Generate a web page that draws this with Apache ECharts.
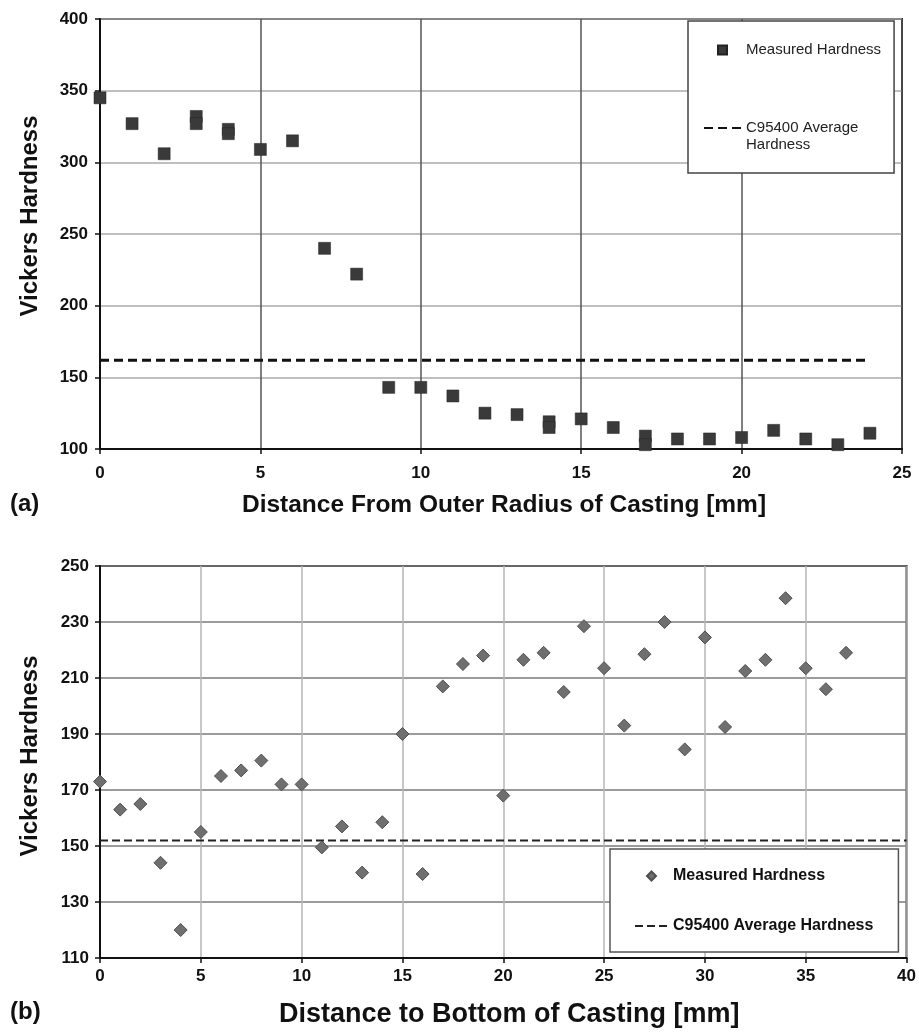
<!DOCTYPE html>
<html>
<head>
<meta charset="utf-8">
<script src="https://cdn.jsdelivr.net/npm/echarts@6/dist/echarts.min.js"></script>
<style>
html,body{margin:0;padding:0;background:#fff;}
#chart{width:919px;height:1036px;}
</style>
</head>
<body>
<div id="chart"></div>
<script>
// ---- Data: panel (a) ----
const topX = [0, 1, 2, 3, 3, 4, 4, 5, 6, 7, 8, 9, 10, 11, 12, 13, 14, 14, 15, 16, 17, 17, 18, 19, 20, 21, 22, 23, 24];
const topY = [345, 327, 306, 332, 327, 323, 320, 309, 315, 240, 222, 143, 143, 137, 125, 124, 119, 115, 121, 115, 109, 103, 107, 107, 108, 113, 107, 103, 111];
const topAvgX = [0, 24];
const topAvgY = [162, 162];
const topXTicks = { min: 0, max: 25, interval: 5 };
const topYTicks = { min: 100, max: 400, interval: 50 };

// ---- Data: panel (b) ----
const bottomX = [0, 1, 2, 3, 4, 5, 6, 7, 8, 9, 10, 11, 12, 13, 14, 15, 16, 17, 18, 19, 20, 21, 22, 23, 24, 25, 26, 27, 28, 29, 30, 31, 32, 33, 34, 35, 36, 37];
const bottomY = [173, 163, 165, 144, 120, 155, 175, 177, 180.5, 172, 172, 149.5, 157, 140.5, 158.5, 190, 140, 207, 215, 218, 168, 216.5, 219, 205, 228.5, 213.5, 193, 218.5, 230, 184.5, 224.5, 192.5, 212.5, 216.5, 238.5, 213.5, 206, 219];
const bottomAvgX = [0, 40];
const bottomAvgY = [152, 152];
const bottomXTicks = { min: 0, max: 40, interval: 5 };
const bottomYTicks = { min: 110, max: 250, interval: 20 };

// ---- Text ----
const yTitle = 'Vickers Hardness';
const topXTitle = 'Distance From Outer Radius of Casting [mm]';
const bottomXTitle = 'Distance to Bottom of Casting [mm]';
const seriesLabel = {
  'a_meas': 'Measured Hardness',
  'a_avg': '\nC95400 Average\nHardness',
  'b_meas': 'Measured Hardness',
  'b_avg': 'C95400 Average Hardness'
};

const FF = "'Liberation Sans', Arial, sans-serif";
const zip = (xs, ys) => xs.map((x, i) => [x, ys[i]]);
const hiddenDot = { color: 'rgba(0,0,0,0)', borderColor: 'rgba(0,0,0,0)', borderWidth: 0, opacity: 0 };
const squareIcon = 'path://M0,0L10,0L10,10L0,10Z';
const diamondIcon = 'path://M5,0L10,5L5,10L0,5Z';

const chart = echarts.init(document.getElementById('chart'), null, { renderer: 'canvas' });

const option = {
  animation: false,
  backgroundColor: '#ffffff',
  textStyle: { fontFamily: FF },
  grid: [
    { left: 100, right: 17, top: 19, bottom: 587, show: true, borderColor: '#222', borderWidth: 2, backgroundColor: 'transparent' },
    { left: 100, right: 12, top: 566, bottom: 78, show: true, borderColor: '#333', borderWidth: 2, backgroundColor: 'transparent' }
  ],
  xAxis: [
    {
      gridIndex: 0, type: 'value', min: topXTicks.min, max: topXTicks.max, interval: topXTicks.interval,
      axisLine: { show: true, onZero: false, lineStyle: { color: '#111', width: 2 } },
      axisTick: { show: true, length: 5, lineStyle: { color: '#111', width: 1.5 } },
      axisLabel: { margin: 16, fontSize: 17, fontWeight: 'bold', color: '#111', fontFamily: FF },
      splitLine: { show: true, lineStyle: { color: '#555', width: 1.5 } },
      name: topXTitle, nameLocation: 'middle', nameGap: 44,
      nameTextStyle: { fontSize: 24.5, fontWeight: 'bold', color: '#111', lineHeight: 24, fontFamily: FF, padding: [0, 0, 0, 6] }
    },
    {
      gridIndex: 1, type: 'value', min: bottomXTicks.min, max: bottomXTicks.max, interval: bottomXTicks.interval,
      axisLine: { show: true, onZero: false, lineStyle: { color: '#111', width: 2 } },
      axisTick: { show: true, length: 5, lineStyle: { color: '#111', width: 1.5 } },
      axisLabel: { margin: 10, fontSize: 17, fontWeight: 'bold', color: '#111', fontFamily: FF },
      splitLine: { show: true, lineStyle: { color: '#b5b5b5', width: 1.5 } },
      name: bottomXTitle, nameLocation: 'middle', nameGap: 43,
      nameTextStyle: { fontSize: 27, fontWeight: 'bold', color: '#111', lineHeight: 27, fontFamily: FF, padding: [0, 0, 0, 12] }
    }
  ],
  yAxis: [
    {
      gridIndex: 0, type: 'value', min: topYTicks.min, max: topYTicks.max, interval: topYTicks.interval,
      axisLine: { show: true, onZero: false, lineStyle: { color: '#111', width: 2 } },
      axisTick: { show: true, length: 5, lineStyle: { color: '#111', width: 1.5 } },
      axisLabel: { margin: 12, fontSize: 17, fontWeight: 'bold', color: '#111', fontFamily: FF },
      splitLine: { show: true, lineStyle: { color: '#aaa', width: 1.5 } },
      name: yTitle, nameLocation: 'middle', nameGap: 58,
      nameTextStyle: { fontSize: 24, fontWeight: 'bold', color: '#111', lineHeight: 24, fontFamily: FF, padding: [0, 0, 0, 36] }
    },
    {
      gridIndex: 1, type: 'value', min: bottomYTicks.min, max: bottomYTicks.max, interval: bottomYTicks.interval,
      axisLine: { show: true, onZero: false, lineStyle: { color: '#111', width: 2 } },
      axisTick: { show: true, length: 5, lineStyle: { color: '#111', width: 1.5 } },
      axisLabel: { margin: 11, fontSize: 17, fontWeight: 'bold', color: '#111', fontFamily: FF },
      splitLine: { show: true, lineStyle: { color: '#7a7a7a', width: 1.5 } },
      name: yTitle, nameLocation: 'middle', nameGap: 58,
      nameTextStyle: { fontSize: 24, fontWeight: 'bold', color: '#111', lineHeight: 24, fontFamily: FF, padding: [0, 0, 0, 12] }
    }
  ],
  legend: [
    {
      orient: 'vertical', left: 688, top: 21,
      padding: [20.5, 13, 19.5, 15], itemGap: 44,
      itemWidth: 37, itemHeight: 9, symbolKeepAspect: true,
      backgroundColor: '#fff', borderColor: '#444', borderWidth: 1.5,
      formatter: (n) => seriesLabel[n],
      textStyle: { fontSize: 15, color: '#222', lineHeight: 17, fontFamily: FF },
      data: [
        { name: 'a_meas', icon: squareIcon },
        { name: 'a_avg', itemStyle: hiddenDot }
      ]
    },
    {
      orient: 'vertical', left: 610, top: 849,
      padding: [18.5, 25, 17.5, 24], itemGap: 33,
      itemWidth: 33, itemHeight: 9, symbolKeepAspect: true,
      backgroundColor: '#fff', borderColor: '#555', borderWidth: 1.5,
      formatter: (n) => seriesLabel[n],
      textStyle: { fontSize: 16, fontWeight: 'bold', color: '#111', lineHeight: 17, fontFamily: FF },
      data: [
        { name: 'b_meas', icon: diamondIcon },
        { name: 'b_avg', itemStyle: hiddenDot }
      ]
    }
  ],
  series: [
    {
      name: 'a_meas', type: 'scatter', xAxisIndex: 0, yAxisIndex: 0,
      symbol: 'rect', symbolSize: 12,
      itemStyle: { color: '#3a3a3a', borderColor: '#222', borderWidth: 0.5, opacity: 1 },
      data: zip(topX, topY), z: 5
    },
    {
      name: 'a_avg', type: 'line', xAxisIndex: 0, yAxisIndex: 0,
      symbol: 'none', showSymbol: false,
      lineStyle: { color: '#111', width: 3, type: [9, 5] },
      itemStyle: { color: '#111' },
      data: zip(topAvgX, topAvgY), z: 4
    },
    {
      name: 'b_meas', type: 'scatter', xAxisIndex: 1, yAxisIndex: 1,
      symbol: 'diamond', symbolSize: 13,
      itemStyle: { color: '#6f6f6f', borderColor: '#4f4f4f', borderWidth: 1, opacity: 1 },
      data: zip(bottomX, bottomY), z: 5
    },
    {
      name: 'b_avg', type: 'line', xAxisIndex: 1, yAxisIndex: 1,
      symbol: 'none', showSymbol: false,
      lineStyle: { color: '#222', width: 2, type: [8, 4] },
      itemStyle: { color: '#222' },
      data: zip(bottomAvgX, bottomAvgY), z: 4
    }
  ],
  graphic: [
    { type: 'text', left: 10, top: 492, style: { text: '(a)', font: "bold 24px 'Liberation Sans', Arial, sans-serif", fill: '#111' } },
    { type: 'text', left: 10, top: 1000, style: { text: '(b)', font: "bold 24px 'Liberation Sans', Arial, sans-serif", fill: '#111' } }
  ]
};

chart.setOption(option);
</script>
</body>
</html>
